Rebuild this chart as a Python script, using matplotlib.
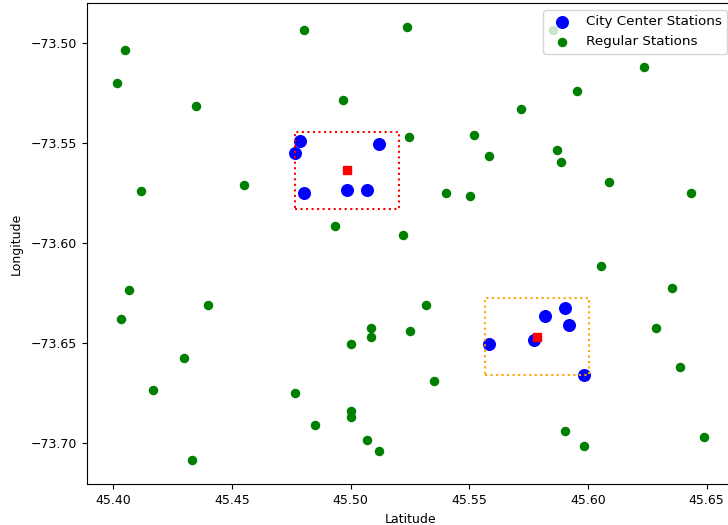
import numpy as np
import matplotlib
matplotlib.use("Agg")
import matplotlib.pyplot as plt

plt.rcParams['font.size'] = 9

# city center stations (lat, lon)
center_lat = [45.4787, 45.4766, 45.5118, 45.4804, 45.4985, 45.5069,
              45.5583, 45.5772, 45.5819, 45.5904, 45.5922, 45.5985]
center_lon = [-73.5492, -73.5550, -73.5507, -73.5752, -73.5737, -73.5737,
              -73.6502, -73.6485, -73.6367, -73.6325, -73.6410, -73.6659]

# regular stations
reg_lat = [45.4049, 45.4017, 45.4349, 45.4802, 45.5236, 45.4968, 45.5248,
           45.4117, 45.4551, 45.4936, 45.5220, 45.5852, 45.6238, 45.5954,
           45.5719, 45.5520, 45.5584, 45.5868, 45.5888, 45.6088, 45.5403,
           45.5503, 45.6436, 45.4065, 45.4032, 45.4400, 45.4299, 45.4166,
           45.4333, 45.4767, 45.4851, 45.5000, 45.5086, 45.5086, 45.5250,
           45.5000, 45.5000, 45.5069, 45.5120, 45.6055, 45.5318, 45.5353,
           45.6356, 45.6286, 45.6388, 45.5904, 45.5985, 45.6488]
reg_lon = [-73.5037, -73.5200, -73.5315, -73.4935, -73.4920, -73.5285, -73.5472,
           -73.5739, -73.5709, -73.5915, -73.5959, -73.4934, -73.5122, -73.5242,
           -73.5329, -73.5459, -73.5564, -73.5535, -73.5594, -73.5694, -73.5752,
           -73.5767, -73.5752, -73.6237, -73.6382, -73.6309, -73.6575, -73.6734,
           -73.7084, -73.6747, -73.6910, -73.6504, -73.6425, -73.6469, -73.6439,
           -73.6839, -73.6867, -73.6984, -73.7040, -73.6117, -73.6309, -73.6690,
           -73.6223, -73.6425, -73.6617, -73.6939, -73.7012, -73.6969]

# cluster centers and their boxes
cluster_lat = [45.4985, 45.5786]
cluster_lon = [-73.5637, -73.6467]
box_dlat = 0.0219
box_dlon = 0.0192
box_colors = ['red', 'orange']

fig = plt.figure(figsize=(7.28, 5.25), dpi=100)
ax = fig.add_axes([86.7 / 728, (525 - 484.3) / 525, (734 - 86.7) / 728, (484.3 - 3.3) / 525])

for clat, clon, col in zip(cluster_lat, cluster_lon, box_colors):
    xs = [clat - box_dlat, clat + box_dlat, clat + box_dlat, clat - box_dlat, clat - box_dlat]
    ys = [clon - box_dlon, clon - box_dlon, clon + box_dlon, clon + box_dlon, clon - box_dlon]
    ax.plot(xs, ys, ':', color=col, linewidth=1.5)
ax.plot(cluster_lat, cluster_lon, 'rs', markersize=6, linestyle='none')

ax.scatter(center_lat, center_lon, c='blue', s=70, label='City Center Stations')
ax.scatter(reg_lat, reg_lon, c='green', s=34, label='Regular Stations')

ax.set_xlim(45.3888, 45.3888 + (734 - 86.7) / 2373)
ax.set_ylim(-73.7205, -73.4803)
ax.set_xticks([45.40, 45.45, 45.50, 45.55, 45.60, 45.65])
ax.set_xlabel('Latitude')
ax.set_ylabel('Longitude', labelpad=6)
ax.legend(loc='upper right', fontsize=9.7)

fig.savefig('out.png', dpi=100)
